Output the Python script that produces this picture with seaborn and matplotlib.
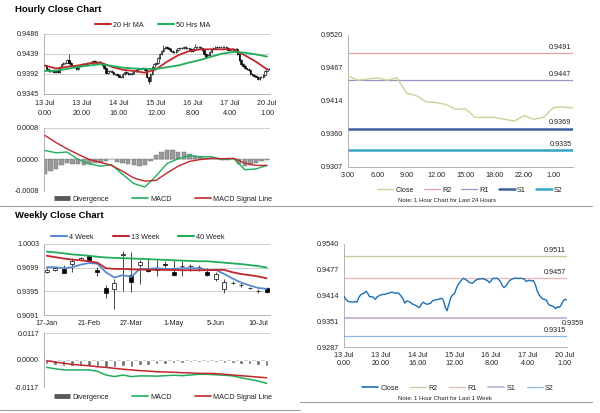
import matplotlib
matplotlib.use("Agg")
import matplotlib.pyplot as plt
from matplotlib.lines import Line2D
import numpy as np
import seaborn as sns

sns.set_theme(style="white")
plt.rcParams["font.family"] = ["Liberation Sans", "DejaVu Sans"]
plt.rcParams["font.size"] = 5.2
plt.rcParams["text.color"] = "#222222"
plt.rcParams["xtick.color"] = "#222222"
plt.rcParams["ytick.color"] = "#222222"

# ---------------- data ----------------
hourly_ticks = [0, 20, 40, 60, 80, 100, 120]
hourly_labels = ["13 Jul\n0.00", "13 Jul\n20.00", "14 Jul\n16.00", "15 Jul\n12.00",
                 "16 Jul\n8.00", "17 Jul\n4.00", "20 Jul\n1.00"]

hourly_close = [
    0.9412, 0.9404, 0.9400, 0.9398, 0.9398, 0.9397, 0.9399, 0.9397, 0.9408, 0.9415,
    0.9418, 0.9419, 0.9424, 0.9418, 0.9410, 0.9411, 0.9409, 0.9404, 0.9410, 0.9413,
    0.9415, 0.9416, 0.9416, 0.9418, 0.9419, 0.9420, 0.9422, 0.9420, 0.9419, 0.9420,
    0.9418, 0.9412, 0.9406, 0.9395, 0.9400, 0.9399, 0.9397, 0.9393, 0.9391, 0.9389,
    0.9386, 0.9384, 0.9392, 0.9397, 0.9394, 0.9392, 0.9393, 0.9394, 0.9400, 0.9402,
    0.9403, 0.9404, 0.9405, 0.9407, 0.9402, 0.9385, 0.9376, 0.9392, 0.9408, 0.9415,
    0.9418, 0.9430, 0.9440, 0.9446, 0.9452, 0.9456, 0.9453, 0.9450, 0.9446, 0.9444,
    0.9444, 0.9449, 0.9452, 0.9454, 0.9454, 0.9455, 0.9454, 0.9452, 0.9450, 0.9445,
    0.9450, 0.9456, 0.9455, 0.9456, 0.9453, 0.9448, 0.9438, 0.9433, 0.9437, 0.9444,
    0.9450, 0.9453, 0.9455, 0.9456, 0.9456, 0.9455, 0.9456, 0.9455, 0.9454, 0.9448,
    0.9450, 0.9451, 0.9449, 0.9450, 0.9440, 0.9425, 0.9415, 0.9410, 0.9405, 0.9404,
    0.9402, 0.9393, 0.9389, 0.9388, 0.9386, 0.9381, 0.9386, 0.9384, 0.9390, 0.9399,
    0.9404, 0.9403,
]
hourly_spike_high = {13: 0.9440, 64: 0.9460, 81: 0.9462}
hourly_spike_low = {56: 0.9368, 115: 0.9378}

ma_idx = list(range(0, 121, 6))
ma20 = [0.9412, 0.9405, 0.9409, 0.9412, 0.9417, 0.9419, 0.9409, 0.9402, 0.9399, 0.9395,
        0.9403, 0.9421, 0.9436, 0.9446, 0.9450, 0.9450, 0.9450, 0.9450, 0.9436, 0.9421,
        0.9403]
ma50 = [0.9399, 0.9400, 0.9404, 0.9409, 0.9412, 0.9415, 0.9411, 0.9407, 0.9405, 0.9404,
        0.9404, 0.9408, 0.9412, 0.9419, 0.9425, 0.9433, 0.9440, 0.9444, 0.9442, 0.9438,
        0.9433]
h_macd = [0.00023, 0.00017, 0.00019, 0.00000, -0.00011, -0.00017, -0.00013, -0.00038,
          -0.00061, -0.00070, -0.00042, -0.00010, 0.00002, 0.00010, 0.00007, 0.00007,
          0.00000, 0.00002, -0.00026, -0.00024, -0.00015]
h_signal = [0.00061, 0.00043, 0.00027, 0.00013, 0.00000, -0.00007, -0.00015, -0.00030,
            -0.00047, -0.00055, -0.00053, -0.00034, -0.00017, -0.00005, 0.00000, 0.00003,
            0.00002, 0.00003, -0.00009, -0.00015, -0.00015]
div_idx = list(range(0, 121, 3))
h_div = [-0.00038, -0.00030, -0.00025, -0.00015, -0.00010, -0.00012, -0.00012, -0.00014,
         -0.00011, -0.00010, -0.00008, -0.00004, 0.00002, -0.00006, -0.00010, -0.00012,
         -0.00014, -0.00016, -0.00015, -0.00005, 0.00011, 0.00020, 0.00024, 0.00023,
         0.00019, 0.00020, 0.00015, 0.00010, 0.00007, 0.00005, 0.00004, 0.00001,
         -0.00002, -0.00001, 0.00000, -0.00012, -0.00017, -0.00013, -0.00009, -0.00004,
         -0.00002]

day_hours = ["3.00", "4.00", "5.00", "6.00", "7.00", "8.00", "9.00", "10.00", "11.00",
             "12.00", "13.00", "14.00", "15.00", "16.00", "17.00", "18.00", "20.00",
             "21.00", "22.00", "23.00", "0.00", "1.00", "2.00", "3.00"]
day_close = [0.9454, 0.9447, 0.9449, 0.9451, 0.9447, 0.9451, 0.9426, 0.9422, 0.9412,
             0.9411, 0.9408, 0.9400, 0.9401, 0.9387, 0.9387, 0.9387, 0.9384, 0.9381,
             0.9390, 0.9384, 0.9387, 0.9403, 0.9404, 0.9402]
day_levels = {"R2": 0.9491, "R1": 0.9447, "S1": 0.9369, "S2": 0.9335}
week_levels = {"R2": 0.9511, "R1": 0.9457, "S1": 0.9359, "S2": 0.9315}

weekly_labels = ["17-Jan", "21-Feb", "27-Mar", "1-May", "5-Jun", "10-Jul"]
weekly_ticks = [0, 5, 10, 15, 20, 25]
w_open = [0.9639, 0.9675, 0.9683, 0.9750, 0.9795, 0.9848, 0.9674, 0.9444, 0.9426,
          0.9868, 0.9603, 0.9737, 0.9683, 0.9692, 0.9750, 0.9648, 0.9718, 0.9719,
          0.9706, 0.9648, 0.9550, 0.9426, 0.9507, 0.9476, 0.9441, 0.9396, 0.9439]
w_close = [0.9674, 0.9692, 0.9630, 0.9781, 0.9817, 0.9790, 0.9639, 0.9373, 0.9506,
           0.9872, 0.9515, 0.9772, 0.9652, 0.9670, 0.9728, 0.9608, 0.9722, 0.9717,
           0.9704, 0.9608, 0.9617, 0.9515, 0.9505, 0.9474, 0.9439, 0.9394, 0.9382]
w_high = [0.9700, 0.9710, 0.9737, 0.9817, 0.9835, 0.9852, 0.9705, 0.9479, 0.9550,
          0.9914, 0.9905, 0.9794, 0.9817, 0.9794, 0.9781, 0.9794, 0.9781, 0.9750,
          0.9737, 0.9692, 0.9639, 0.9550, 0.9528, 0.9506, 0.9448, 0.9426, 0.9452]
w_low = [0.9625, 0.9660, 0.9630, 0.9639, 0.9785, 0.9781, 0.9595, 0.9306, 0.9173,
         0.9395, 0.9382, 0.9484, 0.9639, 0.9594, 0.9683, 0.9595, 0.9595, 0.9661,
         0.9661, 0.9595, 0.9528, 0.9373, 0.9484, 0.9448, 0.9430, 0.9373, 0.9373]
w_ma4 = [0.9705, 0.9705, 0.9692, 0.9705, 0.9737, 0.9759, 0.9750, 0.9639, 0.9572,
         0.9603, 0.9581, 0.9683, 0.9683, 0.9692, 0.9683, 0.9683, 0.9692, 0.9692,
         0.9692, 0.9670, 0.9670, 0.9617, 0.9559, 0.9506, 0.9470, 0.9439, 0.9426]
w_ma13 = [0.9852, 0.9834, 0.9817, 0.9803, 0.9794, 0.9781, 0.9763, 0.9692, 0.9683,
          0.9683, 0.9679, 0.9674, 0.9674, 0.9670, 0.9670, 0.9670, 0.9666, 0.9666,
          0.9666, 0.9666, 0.9670, 0.9670, 0.9639, 0.9617, 0.9603, 0.9586, 0.9563]
w_ma40 = [0.9905, 0.9896, 0.9883, 0.9870, 0.9861, 0.9852, 0.9839, 0.9830, 0.9825,
          0.9821, 0.9817, 0.9812, 0.9808, 0.9803, 0.9799, 0.9794, 0.9790, 0.9785,
          0.9781, 0.9781, 0.9772, 0.9763, 0.9754, 0.9745, 0.9732, 0.9719, 0.9701]
w_macd = [-0.0032, -0.0038, -0.0043, -0.0043, -0.0043, -0.0043, -0.0049, -0.0065,
          -0.0072, -0.0065, -0.0072, -0.0069, -0.0069, -0.0070, -0.0068, -0.0066,
          -0.0068, -0.0065, -0.0062, -0.0062, -0.0064, -0.0066, -0.0069, -0.0077,
          -0.0084, -0.0091, -0.0101]
w_signal = [-0.0003, -0.0009, -0.0014, -0.0019, -0.0022, -0.0025, -0.0029, -0.0032,
            -0.0036, -0.0040, -0.0043, -0.0046, -0.0048, -0.0051, -0.0052, -0.0053,
            -0.0055, -0.0056, -0.0058, -0.0058, -0.0059, -0.0062, -0.0065, -0.0068,
            -0.0071, -0.0074, -0.0077]
w_div = [-0.0019, -0.0023, -0.0026, -0.0026, -0.0026, -0.0026, -0.0026, -0.0032,
         -0.0032, -0.0026, -0.0029, -0.0022, -0.0020, -0.0019, -0.0017, -0.0014,
         -0.0012, -0.0009, -0.0007, -0.0007, -0.0010, -0.0012, -0.0014, -0.0017,
         -0.0019, -0.0023, -0.0026]

# ---------------- style ----------------
RED = "#c0282d"
GREEN = "#1fae5a"
SPINE = "#a6a6a6"
GRID = "#c8c8c8"
W, H = 600, 413


def rect(l, t, r, b):
    return [l / W, 1 - b / H, (r - l) / W, (b - t) / H]


def style(ax, yticks, ylabels, grid=True):
    ax.set_yticks(yticks)
    ax.set_yticklabels(ylabels)
    ax.set_ylim(min(yticks), max(yticks))
    for s in ("top", "right"):
        ax.spines[s].set_visible(False)
    for s in ("left", "bottom"):
        ax.spines[s].set_color(SPINE)
        ax.spines[s].set_linewidth(0.6)
    ax.tick_params(axis="both", length=2, width=0.5, color=SPINE, pad=1.5,
                   labelsize=5.2)
    if grid:
        ax.yaxis.grid(True, color=GRID, lw=0.6)
        ax.set_axisbelow(True)
    ax.set_xlabel("")
    ax.set_ylabel("")


def candles(ax, o, h, l, c, width, lw):
    x = np.arange(len(c))
    o, h, l, c = map(np.asarray, (o, h, l, c))
    ax.vlines(x, l, h, color="black", lw=lw, zorder=3)
    up = c >= o
    ax.bar(x, np.abs(c - o), width, bottom=np.minimum(o, c),
           color=np.where(up, "white", "black"), edgecolor="black",
           linewidth=lw, zorder=4)


def legend(handles, labels, cx, cy, colsp=2.0, size=5.2):
    fig.legend(handles, labels, loc="center", bbox_to_anchor=(cx / W, 1 - cy / H),
               ncol=len(labels), frameon=False, handlelength=2.2,
               handletextpad=0.3, columnspacing=colsp, fontsize=size,
               borderaxespad=0, borderpad=0)


def hline(y, x0, x1, color="#a0a0a0", lw=0.8):
    fig.add_artist(Line2D([x0 / W, x1 / W], [1 - y / H, 1 - y / H],
                          transform=fig.transFigure, color=color, lw=lw))


def div_handle():
    return Line2D([], [], color="#5a5a5a", lw=3.5, solid_capstyle="butt")


fig = plt.figure(figsize=(6, 4.13), dpi=100)
fig.patch.set_facecolor("white")

fig.text(15 / W, 1 - 10 / H, "Hourly Close Chart", fontsize=6.8, fontweight="bold",
         va="center", ha="left", color="black")
fig.text(15 / W, 1 - 216 / H, "Weekly Close Chart", fontsize=6.8, fontweight="bold",
         va="center", ha="left", color="black")

hline(206, 0, 592)
hline(410, 0, 300)
hline(402, 300, 592)

# ---------- hourly candles ----------
ax1 = fig.add_axes(rect(44, 34, 270, 94))
h_open = [hourly_close[0]] + hourly_close[:-1]
pad = 0.00022
h_high = [max(a, b) + pad for a, b in zip(h_open, hourly_close)]
h_low = [min(a, b) - pad for a, b in zip(h_open, hourly_close)]
for k, v in hourly_spike_high.items():
    h_high[k] = v
for k, v in hourly_spike_low.items():
    h_low[k] = v
candles(ax1, h_open, h_high, h_low, hourly_close, 0.75, 0.45)
sns.lineplot(x=ma_idx, y=ma20, ax=ax1, color=RED, lw=1.3, zorder=5)
sns.lineplot(x=ma_idx, y=ma50, ax=ax1, color=GREEN, lw=1.3, zorder=5)
style(ax1, [0.9345, 0.9392, 0.9439, 0.9486], ["0.9345", "0.9392", "0.9439", "0.9486"])
ax1.set_xlim(-0.5, 121.6)
ax1.set_xticks(hourly_ticks)
ax1.set_xticklabels([s.split("\n")[0] for s in hourly_labels])
ax1.tick_params(axis="x", pad=2)
legend([Line2D([], [], color=RED, lw=1.5), Line2D([], [], color=GREEN, lw=1.5)],
       ["20 Hr MA", "50 Hrs MA"], 153, 25)
for t, s in zip(hourly_ticks, hourly_labels):
    ax1.annotate(s.split("\n")[1], xy=(t, 0), xycoords=("data", "axes fraction"),
                 xytext=(0, -14), textcoords="offset points", ha="center",
                 va="center", fontsize=5.2)

# ---------- hourly MACD ----------
ax2 = fig.add_axes(rect(44, 128, 270, 191))
ax2.bar(div_idx, h_div, width=2.4, color="#9a9a9a", edgecolor="#6e6e6e",
        linewidth=0.3, zorder=2)
sns.lineplot(x=ma_idx, y=h_macd, ax=ax2, color=GREEN, lw=1.0, zorder=4)
sns.lineplot(x=ma_idx, y=h_signal, ax=ax2, color=RED, lw=1.0, zorder=4)
style(ax2, [-0.0008, 0.0, 0.0008], ["-0.0008", "0.0000", "0.0008"])
ax2.set_xlim(-0.5, 121.6)
ax2.set_xticks([])
ax2.spines["bottom"].set_visible(False)
legend([div_handle(), Line2D([], [], color=GREEN, lw=1.2),
        Line2D([], [], color=RED, lw=1.2)],
       ["Divergence", "MACD", "MACD Signal Line"], 163, 199, colsp=3.2)

# ---------- last 24 hours ----------
ax3 = fig.add_axes(rect(348, 35, 573, 167))
day_cols = {"R2": "#e6a3a3", "R1": "#9d93c6", "S1": "#3c5f9e", "S2": "#33a7c2"}
day_lw = {"R2": 0.9, "R1": 0.9, "S1": 1.8, "S2": 1.8}
sns.lineplot(x=np.arange(len(day_close)), y=day_close, ax=ax3, color="#c4d59a",
             lw=1.0, zorder=3)
for k, v in day_levels.items():
    ax3.axhline(v, color=day_cols[k], lw=day_lw[k], zorder=2)
    ax3.annotate(f"{v:.4f}", xy=(1, v), xycoords=("axes fraction", "data"),
                 xytext=(-1, 1.5), textcoords="offset points", ha="right",
                 va="bottom", fontsize=5.2)
style(ax3, [0.9307, 0.93603, 0.94135, 0.94668, 0.9520],
      ["0.9307", "0.9360", "0.9414", "0.9467", "0.9520"], grid=False)
ax3.set_xlim(0, len(day_close) - 1)
ax3.set_xticks(range(0, len(day_close), 3))
ax3.set_xticklabels(day_hours[::3])
legend([Line2D([], [], color="#c4d59a", lw=1.0)] +
       [Line2D([], [], color=day_cols[k], lw=day_lw[k]) for k in day_levels],
       ["Close"] + list(day_levels), 470, 190, colsp=1.4)
fig.text(447 / W, 1 - 201 / H, "Note: 1 Hour Chart for Last 24 Hours", fontsize=4.3,
         ha="center", va="center")

# ---------- weekly candles ----------
ax4 = fig.add_axes(rect(44, 244, 270, 315))
candles(ax4, w_open, w_high, w_low, w_close, 0.48, 0.5)
wx = np.arange(len(w_close))
sns.lineplot(x=wx, y=w_ma4, ax=ax4, color="#5a8bd0", lw=1.3, zorder=5)
sns.lineplot(x=wx, y=w_ma13, ax=ax4, color=RED, lw=1.3, zorder=5)
sns.lineplot(x=wx, y=w_ma40, ax=ax4, color=GREEN, lw=1.3, zorder=5)
style(ax4, [0.9091, 0.9395, 0.9699, 1.0003], ["0.9091", "0.9395", "0.9699", "1.0003"])
ax4.set_xlim(-0.32, 26.4)
ax4.set_xticks(weekly_ticks)
ax4.set_xticklabels(weekly_labels)
legend([Line2D([], [], color="#5a8bd0", lw=1.5), Line2D([], [], color=RED, lw=1.5),
        Line2D([], [], color=GREEN, lw=1.5)],
       ["4 Week", "13 Week", "40 Week"], 138, 237, colsp=2.6)

# ---------- weekly MACD ----------
ax5 = fig.add_axes(rect(44, 333, 270, 387))
ax5.bar(wx, w_div, width=0.42, color="#6a6a6a", zorder=2)
sns.lineplot(x=wx, y=w_macd, ax=ax5, color=GREEN, lw=1.1, zorder=4)
sns.lineplot(x=wx, y=w_signal, ax=ax5, color=RED, lw=1.1, zorder=4)
style(ax5, [-0.0117, 0.0, 0.0117], ["-0.0117", "0.0000", "0.0117"])
ax5.set_xlim(-0.32, 26.4)
ax5.set_xticks([])
ax5.spines["bottom"].set_visible(False)
legend([div_handle(), Line2D([], [], color=GREEN, lw=1.2),
        Line2D([], [], color=RED, lw=1.2)],
       ["Divergence", "MACD", "MACD Signal Line"], 163, 397, colsp=3.2)

# ---------- one week hourly close ----------
ax6 = fig.add_axes(rect(344, 244, 567, 347))
wk_cols = {"R2": "#c9c99f", "R1": "#eab7b7", "S1": "#c9b6d9", "S2": "#8fb9de"}
wk_lw = {"R2": 0.9, "R1": 0.9, "S1": 1.4, "S2": 0.9}
sns.lineplot(x=np.arange(len(hourly_close)), y=hourly_close, ax=ax6, color="#1f6fb2",
             lw=1.0, zorder=3)
for k, v in week_levels.items():
    ax6.axhline(v, color=wk_cols[k], lw=wk_lw[k], zorder=2)
    below = k == "S1"
    ax6.annotate(f"{v:.4f}", xy=(1, v), xycoords=("axes fraction", "data"),
                 xytext=(12 if below else -1, -1.5 if below else 1.5),
                 textcoords="offset points", ha="right",
                 va="top" if below else "bottom", fontsize=5.2)
style(ax6, [0.9287, 0.93503, 0.94135, 0.94768, 0.9540],
      ["0.9287", "0.9351", "0.9414", "0.9477", "0.9540"], grid=False)
ax6.set_xlim(0, 121.2)
ax6.set_xticks(hourly_ticks)
ax6.set_xticklabels(hourly_labels, linespacing=1.3)
legend([Line2D([], [], color="#1f6fb2", lw=1.2)] +
       [Line2D([], [], color=wk_cols[k], lw=wk_lw[k]) for k in week_levels],
       ["Close"] + list(week_levels), 458, 388, colsp=1.6)
fig.text(445 / W, 1 - 398 / H, "Note: 1 Hour Chart for Last 1 Week", fontsize=4.3,
         ha="center", va="center")

fig.savefig("out.png", dpi=100, facecolor="white")
